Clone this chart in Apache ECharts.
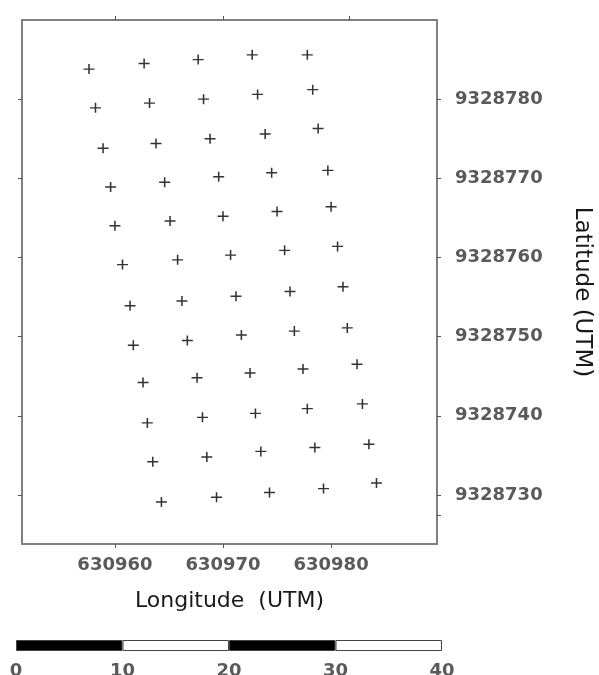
<!DOCTYPE html>
<html>
<head>
<meta charset="utf-8">
<script src="https://cdn.jsdelivr.net/npm/echarts@6/dist/echarts.min.js"></script>
<style>
  html, body { margin: 0; padding: 0; background: #fff; }
  #chart { width: 599px; height: 675px; }
</style>
</head>
<body>
<div id="chart"></div>
<script>
// tick values
var xTicks = [630960, 630970, 630980];
var topTicks = [630960, 630970, 630981.7];
var yTicks = [9328730, 9328740, 9328750, 9328760, 9328770, 9328780];
var rightExtraTick = [9328727.4];

// sample points, row by row (north to south), 5 per row
var pointLon = [
    630957.6, 630962.7, 630967.7, 630972.7, 630977.8,
    630958.2, 630963.2, 630968.2, 630973.2, 630978.3,
    630958.9, 630963.8, 630968.8, 630973.9, 630978.8,
    630959.6, 630964.6, 630969.6, 630974.5, 630979.7,
    630960.0, 630965.1, 630970.0, 630975.0, 630980.0,
    630960.7, 630965.8, 630970.7, 630975.7, 630980.6,
    630961.4, 630966.2, 630971.2, 630976.2, 630981.1,
    630961.7, 630966.7, 630971.7, 630976.6, 630981.5,
    630962.6, 630967.6, 630972.5, 630977.4, 630982.4,
    630963.0, 630968.1, 630973.0, 630977.8, 630982.9,
    630963.5, 630968.5, 630973.5, 630978.5, 630983.5,
    630964.3, 630969.4, 630974.3, 630979.3, 630984.2
];
var pointLat = [
    9328783.8, 9328784.5, 9328785.0, 9328785.6, 9328785.6,
    9328778.9, 9328779.5, 9328780.0, 9328780.6, 9328781.2,
    9328773.8, 9328774.4, 9328775.0, 9328775.6, 9328776.3,
    9328768.9, 9328769.5, 9328770.2, 9328770.7, 9328771.0,
    9328764.0, 9328764.6, 9328765.2, 9328765.8, 9328766.4,
    9328759.1, 9328759.7, 9328760.3, 9328760.9, 9328761.4,
    9328753.9, 9328754.5, 9328755.1, 9328755.7, 9328756.3,
    9328748.9, 9328749.5, 9328750.2, 9328750.7, 9328751.1,
    9328744.2, 9328744.8, 9328745.4, 9328745.9, 9328746.5,
    9328739.1, 9328739.8, 9328740.3, 9328740.9, 9328741.5,
    9328734.2, 9328734.8, 9328735.5, 9328736.0, 9328736.4,
    9328729.1, 9328729.7, 9328730.3, 9328730.8, 9328731.5
];

// scale bar (m)
var scaleSegments = [10, 10, 10, 10];
var scaleColors = ['#000', '#fff', '#000', '#fff'];

var myChart = echarts.init(document.getElementById('chart'));

var points = pointLon.map(function (x, i) { return [x, pointLat[i]]; });
var plusPath = 'path://M4.3,0H5.7V4.3H10V5.7H5.7V10H4.3V5.7H0V4.3H4.3Z';

var frameLine = { show: true, onZero: false, lineStyle: { color: '#808080', width: 2 } };
var tickStyle = { color: '#555', width: 1 };
var labelFont = { fontFamily: 'DejaVu Sans', fontSize: 18, fontWeight: 'bold', color: '#5a5a5a' };
var plain = function (v) { return String(Math.round(v)); };

var scaleSeries = scaleSegments.map(function (v, i) {
    return {
        type: 'bar',
        xAxisIndex: 2,
        yAxisIndex: 2,
        stack: 'scale',
        barWidth: '100%',
        silent: true,
        data: [v],
        itemStyle: { color: scaleColors[i], borderColor: '#444', borderWidth: 1 }
    };
});

option = {
    animation: false,
    backgroundColor: '#fff',
    grid: [
        { left: 22, right: 162, top: 20, bottom: 131, outerBoundsMode: 'none', containLabel: false },
        { left: 16, width: 426, top: 640, height: 11, outerBoundsMode: 'none', containLabel: false }
    ],
    xAxis: [
        {
            type: 'value', gridIndex: 0, position: 'bottom',
            min: 630951.4, max: 630989.8,
            axisLine: frameLine,
            axisTick: { show: true, customValues: xTicks, length: 4, lineStyle: tickStyle },
            axisLabel: Object.assign({ customValues: xTicks, margin: 12, formatter: plain }, labelFont),
            splitLine: { show: false },
            name: 'Longitude  (UTM)',
            nameLocation: 'middle',
            nameGap: 46,
            nameTextStyle: { fontFamily: 'DejaVu Sans', fontSize: 22, color: '#1a1a1a' }
        },
        {
            type: 'value', gridIndex: 0, position: 'top',
            min: 630951.4, max: 630989.8,
            axisLine: frameLine,
            axisTick: { show: true, customValues: topTicks, length: 4, lineStyle: tickStyle },
            axisLabel: { show: false },
            splitLine: { show: false }
        },
        {
            type: 'value', gridIndex: 1,
            min: 0, max: 40, interval: 10,
            axisLine: { show: false },
            axisTick: { show: false },
            axisLabel: Object.assign({ margin: 11 }, labelFont),
            splitLine: { show: false }
        }
    ],
    yAxis: [
        {
            type: 'value', gridIndex: 0, position: 'right',
            min: 9328723.8, max: 9328790.0,
            axisLine: frameLine,
            axisTick: { show: true, customValues: yTicks.concat(rightExtraTick), length: 4, lineStyle: tickStyle },
            axisLabel: Object.assign({ customValues: yTicks, margin: 18, formatter: plain }, labelFont),
            splitLine: { show: false },
            name: 'Latitude (UTM)',
            nameLocation: 'middle',
            nameRotate: -90,
            nameGap: 133,
            nameTextStyle: { fontFamily: 'DejaVu Sans', fontSize: 23, color: '#1a1a1a', padding: [0, 0, 0, 20] }
        },
        {
            type: 'value', gridIndex: 0, position: 'left',
            min: 9328723.8, max: 9328790.0,
            axisLine: frameLine,
            axisTick: { show: true, customValues: yTicks, length: 4, lineStyle: tickStyle },
            axisLabel: { show: false },
            splitLine: { show: false }
        },
        {
            type: 'category', gridIndex: 1,
            data: ['scale'],
            show: false
        }
    ],
    series: [
        {
            type: 'scatter',
            xAxisIndex: 0,
            yAxisIndex: 0,
            symbol: plusPath,
            symbolSize: [11, 10],
            itemStyle: { color: '#333', opacity: 1 },
            data: points
        }
    ].concat(scaleSeries)
};

myChart.setOption(option);
</script>
</body>
</html>
